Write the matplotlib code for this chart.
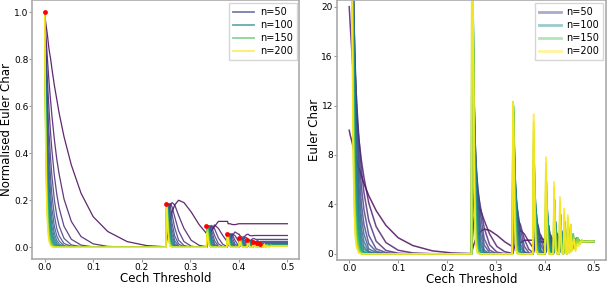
import numpy as np
import matplotlib
matplotlib.use("Agg")
import matplotlib.pyplot as plt
from matplotlib.lines import Line2D

# Cech threshold values at which every curve is sampled
THRESHOLD = [0, 0.002, 0.004, 0.006, 0.008, 0.01, 0.0125, 0.015, 0.02, 0.025, 0.03, 0.04, 0.055, 0.075, 0.1, 0.13, 0.17, 0.21, 0.2495,
             0.25, 0.2505, 0.2512, 0.2522, 0.2537, 0.2557, 0.2585, 0.2625, 0.268, 0.276, 0.287, 0.302, 0.318, 0.3333,
             0.33335, 0.3338, 0.3344, 0.3352, 0.3364, 0.338, 0.3405, 0.344, 0.35, 0.358, 0.367, 0.37495,
             0.37505, 0.3755, 0.3761, 0.3769, 0.378, 0.3795, 0.382, 0.386, 0.392, 0.39995,
             0.40005, 0.4005, 0.4011, 0.4019, 0.403, 0.4048, 0.408, 0.4125, 0.41665,
             0.41668, 0.4172, 0.4178, 0.4186, 0.4198, 0.422, 0.4255, 0.42855,
             0.42858, 0.4291, 0.4297, 0.4306, 0.432, 0.4345, 0.43748,
             0.43751, 0.438, 0.4386, 0.4395, 0.441, 0.44443,
             0.44446, 0.445, 0.4456, 0.4466, 0.448,
             0.45, 0.4513, 0.4527, 0.4545, 0.456, 0.458, 0.46, 0.4625, 0.465, 0.4675, 0.47, 0.4725, 0.475, 0.48, 0.49, 0.5]
N_VALUES = [10, 20, 30, 40, 50, 60, 70, 80, 90, 100, 110, 120, 130, 140, 150, 160, 170, 180, 190, 200]
LEGEND_N = [50, 100, 150, 200]
PEAK_THRESHOLD = [0.0, 0.25, 0.3333, 0.375, 0.4, 0.4167, 0.4286, 0.4375, 0.4444]
PEAK_NORMALISED = [1.0, 0.184, 0.090, 0.056, 0.039, 0.029, 0.023, 0.0186, 0.0155]

# Euler characteristic (right panel) per n; the left panel shows these divided by n
EULER_N10 = [10, 9.6, 9.3, 9, 8.6, 8.3, 8, 7.6, 6.9, 6.3, 5.7, 4.7, 3.5, 2.3, 1.3, .67, .24, .07, .02,
             .02, .11, .23, .39, .61, .87, 1.2, 1.5, 1.8, 2, 1.9, 1.5, .97, .59,
             .59, .58, .57, .56, .56, .57, .61, .7, .88, 1.1, 1.1, 1.1,
             1.1, 1.1, 1.1, 1.1, 1, 1, 1, .97, .96, 1] + [1] * 51
EULER_N20 = [20, 18.5, 17.2, 15.9, 14.7, 13.6, 12.4, 11.2, 9.2, 7.5, 6.2, 4.1, 2.2, .91, .29, .07, .01, 0, 0,
             0, .37, .84, 1.4, 2.2, 2.9, 3.5, 3.8, 3.6, 2.7, 1.6, .59, .17, .04,
             .04, .05, .08, .15, .31, .58, 1, 1.5, 1.9, 1.6, 1, .54,
             .53, .51, .49, .46, .45, .48, .61, .94, 1.3, 1.1,
             1.1, 1.1, 1.1, 1, .97, .9, .85, .95, 1.1,
             1.1, 1.1, 1.1, 1.1, 1.1, 1, .98, .98,
             .98, .98, .99, .99, 1, 1, 1] + [1] * 27
EULER_N30 = [30, 26.7, 23.8, 21.1, 18.8, 16.7, 14.4, 12.4, 9.18, 6.78, 4.99, 2.67, 1.02, .27, .05, 0, 0, 0, 0,
             0, .82, 1.82, 2.99, 4.24, 5.2, 5.61, 5.17, 3.87, 2.09, .73, .13, .02, 0,
             0, .03, .14, .38, .83, 1.48, 2.29, 2.79, 2.36, 1.18, .37, .11,
             .1, .1, .1, .1, .3, .5, 1.1, 1.7, 1.5, .7,
             .7, .6, .6, .5, .5, .5, .9, 1.3, 1.2,
             1.2, 1.1, 1.1, 1, .9, .8, .9, 1.1,
             1.1, 1.1, 1.1, 1.1, 1.1, 1, 1] + [1] * 27
EULER_N40 = [40, 34, 29, 25, 21, 18.2, 14.9, 12.2, 8.1, 5.4, 3.6, 1.5, .4, .1, 0, 0, 0, 0, 0,
             0, 1.4, 3.1, 4.9, 6.6, 7.4, 7.1, 5.6, 3.3, 1.2, .3, 0, 0, 0,
             0, .1, .3, .8, 1.7, 2.7, 3.6, 3.5, 2, .6, .1, 0,
             0, 0, .1, .2, .5, 1.1, 2, 2.3, 1.2, .2,
             .2, .2, .2, .2, .3, .7, 1.5, 1.5, .9,
             .9, .8, .7, .6, .5, .7, 1.2, 1.2,
             1.2, 1.2, 1.1, 1, .9, .8, 1.1,
             1.1, 1.1, 1.1, 1.1, 1, .9,
             .9, 1, 1, 1, 1] + [1] * 16
EULER_N50 = [50, 41, 34, 28, 23, 18.6, 14.5, 11.2, 6.8, 4, 2.4, .8, .2, 0, 0, 0, 0, 0, 0,
             0, 2.2, 4.7, 7.1, 8.9, 9.2, 7.9, 5.2, 2.4, .7, .1, 0, 0, 0,
             0, .1, .6, 1.4, 2.8, 4, 4.6, 3.6, 1.4, .2, 0, 0,
             0, 0, .1, .4, 1, 2, 2.9, 2.3, .7, .1,
             .1, .1, .1, .1, .5, 1.2, 2, 1.3, .4,
             .4, .4, .3, .3, .4, 1, 1.6, 1.1,
             1.1, 1, .8, .7, .6, 1, 1.3,
             1.3, 1.2, 1.2, 1, .8, 1,
             1, 1.1, 1.1, 1.1, 1,
             .9] + [1] * 15
EULER_N60 = [60, 47, 37, 29, 23, 18.2, 13.5, 9.9, 5.4, 2.9, 1.6, .4, .1, 0, 0, 0, 0, 0, 0,
             0, 3.2, 6.4, 9.3, 11, 10.6, 8.1, 4.5, 1.7, .3, 0, 0, 0, 0,
             0, .2, 1, 2.3, 4, 5.3, 5.2, 3.2, .8, .1, 0, 0,
             0, 0, .2, .7, 1.7, 2.9, 3.4, 1.9, .3, 0,
             0, 0, .1, .3, .8, 1.9, 2.3, .9, .2,
             .2, .1, .1, .2, .5, 1.5, 1.6, .7,
             .7, .6, .5, .4, .5, 1.3, 1.3,
             1.3, 1.1, 1, .8, .6, 1.2,
             1.2, 1.2, 1.2, 1, .8,
             1, 1.1, 1, .9] + [1] * 12
EULER_N70 = [70, 53, 40, 30, 23, 17.4, 12.2, 8.6, 4.2, 2, 1, .2, 0, 0, 0, 0, 0, 0, 0,
             0, 4.2, 8.4, 11.7, 13, 11.5, 7.8, 3.7, 1.1, .1, 0, 0, 0, 0,
             0, .4, 1.5, 3.2, 5.3, 6.4, 5.3, 2.7, .5, 0, 0, 0,
             0, 0, .3, 1.2, 2.6, 3.8, 3.6, 1.4, .1, 0,
             0, 0, .1, .5, 1.4, 2.6, 2.2, .5, .1,
             .1, .1, .1, .2, .9, 2, 1.3, .4,
             .4, .3, .2, .2, .7, 1.7, 1,
             1, .8, .7, .5, .7, 1.4,
             1.3, 1.2, 1.1, .8, .7,
             1.2, 1.2, .9, .9, 1.1, .9] + [1] * 10
EULER_N80 = [80, 58, 42, 31, 22, 16.2, 10.8, 7.2, 3.2, 1.4, .6, .1, 0, 0, 0, 0, 0, 0, 0,
             0, 5.4, 10.4, 14, 14.6, 11.9, 7.2, 2.9, .7, .1, 0, 0, 0, 0,
             0, .5, 2.1, 4.3, 6.7, 7.2, 5.2, 2.1, .2, 0, 0, 0,
             0, .1, .6, 1.7, 3.5, 4.5, 3.5, 1, .1, 0,
             0, 0, .2, .7, 2, 3.2, 1.9, .3, 0,
             0, 0, .1, .4, 1.3, 2.4, 1, .2,
             .2, .1, .1, .3, 1.1, 1.9, .7,
             .7, .5, .4, .3, .9, 1.3,
             1.3, 1, .8, .6, .8,
             1.3, 1.1, .7, 1.1, 1.2, .9, 1.1] + [1] * 9
EULER_N90 = [90, 63, 44, 31, 21, 14.9, 9.5, 6, 2.4, .9, .4, .1, 0, 0, 0, 0, 0, 0, 0,
             0, 6.7, 12.6, 16.2, 16, 12, 6.5, 2.2, .4, 0, 0, 0, 0, 0,
             0, .7, 2.8, 5.5, 7.9, 7.8, 4.7, 1.5, .1, 0, 0, 0,
             0, .1, .8, 2.4, 4.4, 5.1, 3.2, .6, 0, 0,
             0, 0, .3, 1.1, 2.7, 3.6, 1.5, .1, 0,
             0, 0, .1, .6, 1.9, 2.6, .7, .1,
             .1, .1, .1, .4, 1.5, 1.8, .4,
             .4, .3, .2, .3, 1.2, 1,
             1, .8, .5, .4, 1,
             1.4, .9, .6, 1.2, 1.1, .9, 1.1, 1, .9] + [1] * 7
EULER_N100 = [100, 67, 45, 30, 20, 13.5, 8.2, 4.9, 1.8, .6, .2, 0, 0, 0, 0, 0, 0, 0, 0,
              0, 8.1, 14.8, 18.3, 17, 11.8, 5.7, 1.6, .2, 0, 0, 0, 0, 0,
              0, 1, 3.6, 6.8, 9, 8.1, 4.2, 1.1, .1, 0, 0, 0,
              0, .2, 1.1, 3.2, 5.3, 5.4, 2.7, .4, 0, 0,
              0, 0, .4, 1.6, 3.4, 3.7, 1.1, .1, 0,
              0, 0, .2, .9, 2.4, 2.6, .4, 0,
              0, 0, .1, .6, 2, 1.7, .3,
              .2, .2, .1, .4, 1.6, .8,
              .8, .5, .3, .4, 1.3,
              1.3, .6, .7, 1.4, .9, 1, 1, 1.1, 1, .9, 1, 1, 1, 1, 1, 1]
EULER_N110 = [110, 71, 46, 30, 19, 12.2, 7, 4, 1.3, .4, .1, 0, 0, 0, 0, 0, 0, 0, 0,
              0, 9.7, 17.1, 20, 17.7, 11.3, 4.9, 1.2, .1, 0, 0, 0, 0, 0,
              0, 1.3, 4.4, 8.1, 10, 8.1, 3.6, .7, 0, 0, 0, 0,
              0, .2, 1.5, 4, 6.1, 5.5, 2.3, .2, 0, 0,
              0, 0, .6, 2.1, 4, 3.7, .8, 0, 0,
              0, 0, .2, 1.3, 3, 2.4, .2, 0,
              0, 0, .1, .9, 2.5, 1.4, .1,
              .1, .1, .1, .5, 2, .5,
              .5, .3, .2, .5, 1.7,
              1.1, .4, .8, 1.5, .7, 1.2, .9, 1.2] + [1] * 8
EULER_N120 = [120, 74, 46, 29, 17.6, 10.8, 5.9, 3.2, .9, .3, .1, 0, 0, 0, 0, 0, 0, 0, 0,
              0, 11.3, 19.4, 22, 18.2, 10.7, 4.1, .8, .1, 0, 0, 0, 0, 0,
              0, 1.6, 5.4, 9.4, 10.8, 7.9, 3, .5, 0, 0, 0, 0,
              0, .3, 2, 4.9, 6.8, 5.5, 1.8, .1, 0, 0,
              0, .1, .8, 2.7, 4.6, 3.5, .5, 0, 0,
              0, 0, .4, 1.7, 3.5, 2.1, .1, 0,
              0, 0, .2, 1.2, 2.8, 1.1, .1,
              .1, 0, .1, .8, 2.3, .3,
              .3, .2, .1, .7, 1.9,
              .9, .3, 1.1, 1.4, .5, 1.4, .7, 1.2, 1.1] + [1] * 7
EULER_N130 = [130, 78, 46, 27, 16.2, 9.6, 5, 2.6, .7, .2, 0, 0, 0, 0, 0, 0, 0, 0, 0,
              0, 13, 22, 24, 18.4, 10, 3.4, .6, 0, 0, 0, 0, 0, 0,
              0, 2, 6.5, 10.7, 11.5, 7.6, 2.5, .3, 0, 0, 0, 0,
              0, .4, 2.5, 5.8, 7.4, 5.2, 1.4, .1, 0, 0,
              0, .1, 1.1, 3.4, 5.1, 3.2, .3, 0, 0,
              0, 0, .5, 2.2, 3.9, 1.8, .1, 0,
              0, 0, .2, 1.6, 3, .8, 0,
              0, 0, .1, 1.1, 2.5, .2,
              .2, .1, .1, 1, 2.1,
              .6, .2, 1.3, 1.3, .4, 1.6, .5, 1.2, 1.3, 1.1, 1.1] + [1] * 5
EULER_N140 = [140, 80, 46, 26, 14.9, 8.4, 4.1, 2, .5, .1, 0, 0, 0, 0, 0, 0, 0, 0, 0,
              0, 14.8, 24, 25, 18.4, 9.2, 2.8, .4, 0, 0, 0, 0, 0, 0,
              0, 2.4, 7.6, 12, 11.9, 7.2, 2, .2, 0, 0, 0, 0,
              0, .6, 3.1, 6.7, 7.8, 4.9, 1.1, 0, 0, 0,
              0, .1, 1.4, 4.1, 5.5, 2.9, .2, 0, 0,
              0, 0, .7, 2.7, 4.1, 1.4, 0, 0,
              0, 0, .3, 2, 3.2, .6, 0,
              0, 0, .2, 1.4, 2.6, .1,
              .1, .1, .1, 1.3, 2.1,
              .4, .2, 1.7, 1.1, .3, 1.6, .5, 1, 1.3, 1.2, 1.1] + [1] * 5
EULER_N150 = [150, 83, 45, 25, 13.6, 7.4, 3.4, 1.6, .3, .1, 0, 0, 0, 0, 0, 0, 0, 0, 0,
              0, 16.6, 26, 27, 18.2, 8.4, 2.3, .3, 0, 0, 0, 0, 0, 0,
              0, 2.7, 8.2, 12.3, 11.3, 6.1, 1.5, .1, 0, 0, 0, 0,
              0, .7, 3.8, 7.6, 8.1, 4.5, .8, 0, 0, 0,
              0, .2, 1.7, 4.8, 5.8, 2.5, .1, 0, 0,
              0, .1, .9, 3.3, 4.3, 1.1, 0, 0,
              0, 0, .5, 2.5, 3.2, .4, 0,
              0, 0, .2, 1.8, 2.5, .1,
              .1, 0, .2, 1.6, 2.1,
              .3, .2, 1.9, .8, .3, 1.6, .4, .8, 1.3, 1.3, 1.1, .9, 1, 1, 1, 1]
EULER_N160 = [160, 85, 45, 23, 12.3, 6.4, 2.9, 1.3, .2, 0, 0, 0, 0, 0, 0, 0, 0, 0, 0,
              0, 18.5, 29, 28, 17.8, 7.6, 1.8, .2, 0, 0, 0, 0, 0, 0,
              0, 2.9, 8.6, 12.3, 10.6, 5.2, 1, .1, 0, 0, 0, 0,
              0, .9, 4.5, 8.5, 8.2, 4, .6, 0, 0, 0,
              0, .2, 2.2, 5.5, 5.9, 2.1, .1, 0, 0,
              0, .1, 1.2, 3.8, 4.4, .9, 0, 0,
              0, 0, .6, 3, 3.1, .3, 0,
              0, 0, .3, 2.2, 2.4, 0,
              0, 0, .2, 2, 1.9,
              .2, .3, 2.1, .6, .3, 1.5, .5, .7, 1.2, 1.2, 1.1, .9, 1.1, 1, 1, 1]
EULER_N170 = [170, 86, 44, 22, 11.1, 5.6, 2.4, 1, .2, 0, 0, 0, 0, 0, 0, 0, 0, 0, 0,
              0, 21, 31, 29, 17.4, 6.8, 1.5, .1, 0, 0, 0, 0, 0, 0,
              0, 3.1, 9, 12.3, 9.8, 4.4, .8, .1, 0, 0, 0, 0,
              0, 1.1, 5.3, 9.3, 8.2, 3.6, .4, 0, 0, 0,
              0, .3, 2.6, 6.1, 5.9, 1.8, 0, 0, 0,
              0, .1, 1.5, 4.4, 4.3, .6, 0, 0,
              0, 0, .8, 3.4, 2.9, .2, 0,
              0, 0, .4, 2.6, 2.2, 0,
              0, 0, .3, 2.3, 1.8,
              .1, .3, 2.3, .5, .4, 1.4, .6, .5, 1, 1.2, 1, .8, 1.1, 1, 1, 1]
EULER_N180 = [180, 88, 43, 21, 10, 4.8, 1.9, .8, .1, 0, 0, 0, 0, 0, 0, 0, 0, 0, 0,
              0, 23, 33, 29, 16.8, 6.1, 1.2, .1, 0, 0, 0, 0, 0, 0,
              0, 3.5, 9.5, 12.2, 9.1, 3.7, .5, 0, 0, 0, 0, 0,
              0, 1.3, 6.1, 10, 8.1, 3.1, .3, 0, 0, 0,
              0, .4, 3.1, 6.8, 5.8, 1.4, 0, 0, 0,
              0, .2, 1.9, 4.9, 4.1, .5, 0, 0,
              0, 0, 1.1, 3.9, 2.7, .1, 0,
              0, 0, .6, 3, 2, 0,
              0, 0, .4, 2.6, 1.5,
              .1, .5, 2.4, .3, .6, 1.2, .8, .4, .9, 1, .8, .9, 1.1, 1, 1, 1]
EULER_N190 = [190, 89.1, 41.6, 19.4, 9.01, 4.17, 1.59, .6, .08, .01, 0, 0, 0, 0, 0, 0, 0, 0, 0,
              0, 24.6, 34.9, 30, 16.1, 5.36, .91, .06, 0, 0, 0, 0, 0, 0,
              .01, 3.7, 9.9, 12.3, 8.4, 3.1, .4, 0, 0, 0, 0, 0,
              0, 1.6, 6.93, 10.7, 7.93, 2.68, .2, 0, 0, 0,
              0, .48, 3.7, 7.33, 5.66, 1.16, .02, 0, 0,
              0, .2, 2.26, 5.4, 3.93, .34, 0, 0,
              0, .07, 1.34, 4.27, 2.39, .07, 0,
              0, .02, .75, 3.35, 1.75, 0,
              0, .01, .57, 2.92, 1.31,
              .04, .63, 2.37, .22, .73, 1, .97, .26, .71, .89, .71, .91, 1.02, .99, 1, 1]
EULER_N200 = [200, 90.1, 40.4, 18.1, 8.07, 3.59, 1.3, .47, .06, .01, 0, 0, 0, 0, 0, 0, 0, 0, 0,
              0, 26.8, 36.8, 30.4, 15.4, 4.72, .72, .04, 0, 0, 0, 0, 0, 0,
              .01, 4.1, 10.4, 12.3, 7.9, 2.6, .3, 0, 0, 0, 0, 0,
              0, 1.89, 7.8, 11.3, 7.65, 2.28, .14, 0, 0, 0,
              0, .6, 4.29, 7.84, 5.41, .92, .01, 0, 0,
              0, .25, 2.69, 5.83, 3.66, .24, 0, 0,
              0, .09, 1.64, 4.61, 2.1, .04, 0,
              0, .02, .95, 3.68, 1.49, 0,
              0, .02, .74, 3.15, 1.08,
              .02, .82, 2.3, .14, .94, .81, 1.2, .2, .55, .73, .6, 1.01, .95, .98, 1, 1]

SERIES = [EULER_N10, EULER_N20, EULER_N30, EULER_N40, EULER_N50, EULER_N60, EULER_N70,
          EULER_N80, EULER_N90, EULER_N100, EULER_N110, EULER_N120, EULER_N130, EULER_N140,
          EULER_N150, EULER_N160, EULER_N170, EULER_N180, EULER_N190, EULER_N200]

plt.rcParams['font.family'] = 'DejaVu Sans'
fig = plt.figure(figsize=(6.07, 2.87), dpi=100)
ax1 = fig.add_axes([0.0535, 0.0976, 0.4399, 0.9007])
ax2 = fig.add_axes([0.5552, 0.0941, 0.4432, 0.9042])
cols = plt.cm.viridis(np.linspace(0, 1, len(N_VALUES)))
for n, raw, c in zip(N_VALUES, SERIES, cols):
    y = np.asarray(raw, dtype=float)
    ax1.plot(THRESHOLD, y / n, color=c, lw=0.9, alpha=0.85)
    ax2.plot(THRESHOLD, y, color=c, lw=1.1, alpha=0.8)
ax1.scatter(PEAK_THRESHOLD, PEAK_NORMALISED, s=12, color='red', zorder=5, linewidths=0)
ax1.set_xlim(-0.025, 0.525)
ax1.set_ylim(-0.05, 1.05)
ax2.set_xlim(-0.025, 0.525)
ax2.set_ylim(-0.5, 20.5)
ax2.set_yticks([0, 4, 8, 12, 16, 20])
ax1.set_ylabel("Normalised Euler Char", fontsize=8.5, labelpad=0.5)
ax2.set_ylabel("Euler Char", fontsize=8.5, labelpad=0.5)
for ax in (ax1, ax2):
    ax.set_xlabel("Cech Threshold", fontsize=8.5, labelpad=0)
    ax.set_xticks([0, 0.1, 0.2, 0.3, 0.4, 0.5])
    ax.tick_params(labelsize=6.5, length=2, color='#999999', pad=1)
    for s in ax.spines.values():
        s.set_color('#aaaaaa')
        s.set_linewidth(1.2)
for ax, a, lw in ((ax1, 0.7, 1.3), (ax2, 0.45, 2.0)):
    hs = [Line2D([], [], color=cols[N_VALUES.index(n)], lw=lw, alpha=a) for n in LEGEND_N]
    lg = ax.legend(hs, [f"n={n}" for n in LEGEND_N], loc='upper right', fontsize=7,
                   handlelength=2.2, handletextpad=0.6, borderaxespad=0.3,
                   labelspacing=0.3, borderpad=0.4, fancybox=False)
    lg.get_frame().set_edgecolor('#cccccc')
fig.savefig("out.png", dpi=100)
